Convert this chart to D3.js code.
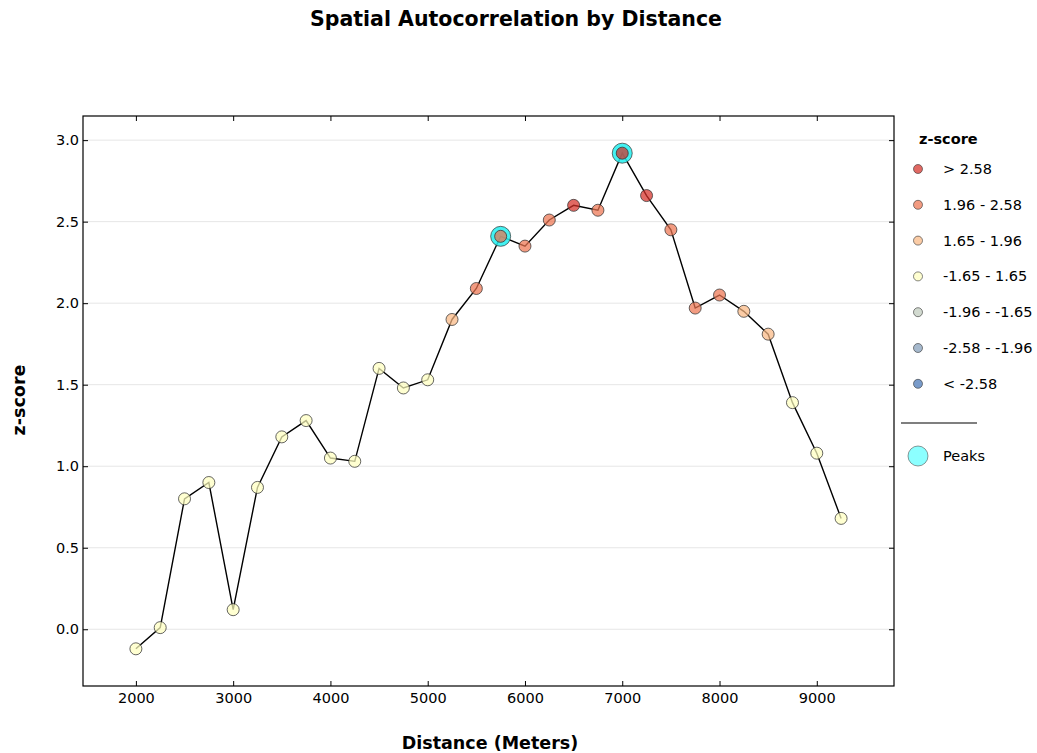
<!DOCTYPE html>
<html>
<head>
<meta charset="utf-8">
<script src="https://cdn.jsdelivr.net/npm/d3@7"></script>
<style>
  html, body { margin: 0; padding: 0; background: #fff; }
  svg { display: block; font-family: "DejaVu Sans", sans-serif; }
</style>
</head>
<body>
<svg id="chart" width="1037" height="753"></svg>
<script>
// Distance bands (meters) and their z-scores
const distances = [2000, 2250, 2500, 2750, 3000, 3250, 3500, 3750, 4000, 4250,
                   4500, 4750, 5000, 5250, 5500, 5750, 6000, 6250, 6500, 6750,
                   7000, 7250, 7500, 7750, 8000, 8250, 8500, 8750, 9000, 9250];
const zScores = [-0.12, 0.01, 0.80, 0.90, 0.12, 0.87, 1.18, 1.28, 1.05, 1.03,
                 1.60, 1.48, 1.53, 1.90, 2.09, 2.41, 2.35, 2.51, 2.60, 2.57,
                 2.92, 2.66, 2.45, 1.97, 2.05, 1.95, 1.81, 1.39, 1.08, 0.68];
const peakDistances = [5750, 7000];

const xTicks = [2000, 3000, 4000, 5000, 6000, 7000, 8000, 9000];
const yTicks = [0.0, 0.5, 1.0, 1.5, 2.0, 2.5, 3.0];

// z-score classes, highest first
const classLabels = ["> 2.58", "1.96 - 2.58", "1.65 - 1.96", "-1.65 - 1.65",
                     "-1.96 - -1.65", "-2.58 - -1.96", "< -2.58"];
const classColors = ["#d62f27", "#ed7551", "#fab984", "#ffffbf",
                     "#c0ccbe", "#849eba", "#4575b5"];

function classIndex(z) {
  if (z > 2.58) return 0;
  if (z > 1.96) return 1;
  if (z > 1.65) return 2;
  if (z >= -1.65) return 3;
  if (z >= -1.96) return 4;
  if (z >= -2.58) return 5;
  return 6;
}

const data = distances.map((d, i) => ({ d, z: zScores[i], peak: peakDistances.includes(d) }));

const svg = d3.select("#chart");
const plot = { left: 83, right: 894, top: 116, bottom: 686 };
const tickFont = 14.5;

// 7.5% padding around the data extent
const xExt = d3.extent(distances), yExt = d3.extent(zScores);
const xPad = (xExt[1] - xExt[0]) * 0.075, yPad = (yExt[1] - yExt[0]) * 0.075;
const x = d3.scaleLinear().domain([xExt[0] - xPad, xExt[1] + xPad]).range([plot.left, plot.right]);
const y = d3.scaleLinear().domain([yExt[0] - yPad, yExt[1] + yPad]).range([plot.bottom, plot.top]);

// Title
svg.append("text").attr("x", 516).attr("y", 26).attr("text-anchor", "middle")
  .attr("font-size", 20.5).attr("font-weight", "bold").text("Spatial Autocorrelation by Distance");

// Horizontal grid
svg.append("g").selectAll("line").data(yTicks).join("line")
  .attr("x1", plot.left).attr("x2", plot.right)
  .attr("y1", d => y(d)).attr("y2", d => y(d))
  .attr("stroke", "#e6e6e6").attr("stroke-width", 1);

// Axes with inward ticks on all four sides
const fmtY = d3.format(".1f"), fmtX = d3.format("d");
const axB = svg.append("g").attr("transform", `translate(0,${plot.bottom})`)
  .call(d3.axisBottom(x).tickValues(xTicks).tickFormat(fmtX).tickSizeInner(-5).tickSizeOuter(0).tickPadding(7));
const axL = svg.append("g").attr("transform", `translate(${plot.left},0)`)
  .call(d3.axisLeft(y).tickValues(yTicks).tickFormat(fmtY).tickSizeInner(-5).tickSizeOuter(0).tickPadding(4));
const axT = svg.append("g").attr("transform", `translate(0,${plot.top})`)
  .call(d3.axisTop(x).tickValues(xTicks).tickSizeInner(-5).tickSizeOuter(0).tickFormat(""));
const axR = svg.append("g").attr("transform", `translate(${plot.right},0)`)
  .call(d3.axisRight(y).tickValues(yTicks).tickSizeInner(-5).tickSizeOuter(0).tickFormat(""));
[axB, axL, axT, axR].forEach(g => {
  g.select(".domain").remove();
  g.selectAll("line").attr("stroke", "#000");
  g.selectAll("text").attr("font-size", tickFont).attr("fill", "#000").attr("font-family", "DejaVu Sans, sans-serif");
});

// Frame
svg.append("rect").attr("x", plot.left).attr("y", plot.top)
  .attr("width", plot.right - plot.left).attr("height", plot.bottom - plot.top)
  .attr("fill", "none").attr("stroke", "#000").attr("stroke-width", 1.2);

// Axis titles
svg.append("text").attr("x", 490).attr("y", 749).attr("text-anchor", "middle")
  .attr("font-size", 17.5).attr("font-weight", "bold").text("Distance (Meters)");
svg.append("text").attr("transform", "translate(25,400) rotate(-90)").attr("text-anchor", "middle")
  .attr("font-size", 17.5).attr("font-weight", "bold").text("z-score");

// Connecting line
svg.append("path").datum(data)
  .attr("d", d3.line().x(d => x(d.d)).y(d => y(d.z)))
  .attr("fill", "none").attr("stroke", "#000").attr("stroke-width", 1.4);

// Peak halos
svg.append("g").selectAll("circle").data(data.filter(d => d.peak)).join("circle")
  .attr("cx", d => x(d.d)).attr("cy", d => y(d.z)).attr("r", 10)
  .attr("fill", "#22eeee").attr("fill-opacity", 0.85)
  .attr("stroke", "#333").attr("stroke-opacity", 0.7).attr("stroke-width", 1);

// Points coloured by z-score class
svg.append("g").selectAll("circle").data(data).join("circle")
  .attr("cx", d => x(d.d)).attr("cy", d => y(d.z)).attr("r", 6)
  .attr("fill", d => classColors[classIndex(d.z)]).attr("fill-opacity", 0.72)
  .attr("stroke", "#333").attr("stroke-opacity", 0.75).attr("stroke-width", 1);

// Legend
const lg = svg.append("g");
lg.append("text").attr("x", 919).attr("y", 144).attr("font-size", 14.5).attr("font-weight", "bold").text("z-score");
const rowY = i => 169 + i * 35.8;
lg.selectAll("circle.cls").data(classLabels).join("circle").attr("class", "cls")
  .attr("cx", 918).attr("cy", (d, i) => rowY(i)).attr("r", 4.5)
  .attr("fill", (d, i) => classColors[i]).attr("fill-opacity", 0.72)
  .attr("stroke", "#333").attr("stroke-opacity", 0.6).attr("stroke-width", 1);
lg.selectAll("text.cls").data(classLabels).join("text").attr("class", "cls")
  .attr("x", 943).attr("y", (d, i) => rowY(i) + 5).attr("font-size", 14.5).text(d => d);
lg.append("line").attr("x1", 901).attr("x2", 977).attr("y1", 423).attr("y2", 423)
  .attr("stroke", "#000").attr("stroke-width", 1.2);
lg.append("circle").attr("cx", 918).attr("cy", 456).attr("r", 10)
  .attr("fill", "#00ffff").attr("fill-opacity", 0.45)
  .attr("stroke", "#333").attr("stroke-opacity", 0.5).attr("stroke-width", 1);
lg.append("text").attr("x", 943).attr("y", 461).attr("font-size", 14.5).text("Peaks");
</script>
</body>
</html>
